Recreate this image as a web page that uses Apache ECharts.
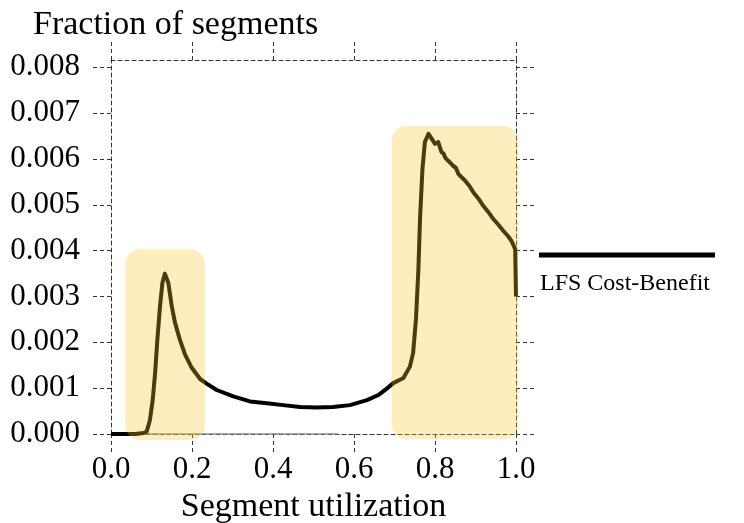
<!DOCTYPE html>
<html>
<head>
<meta charset="utf-8">
<script src="https://cdn.jsdelivr.net/npm/echarts@6/dist/echarts.min.js"></script>
<style>
  html, body { margin: 0; padding: 0; background: #fff; }
  #chart { width: 744px; height: 523px; }
</style>
</head>
<body>
<div id="chart"></div>
<script>
// segment utilization (x) and fraction of segments (y)
var utilization = [0, 0.02, 0.04, 0.06, 0.08, 0.088, 0.096, 0.103, 0.109, 0.114, 0.121, 0.127, 0.133,
  0.1415, 0.15, 0.158, 0.17, 0.183, 0.199, 0.22, 0.236, 0.261, 0.302, 0.343, 0.385, 0.425, 0.467,
  0.508, 0.548, 0.59, 0.632, 0.66, 0.681, 0.697, 0.722, 0.738, 0.746, 0.753, 0.759, 0.763, 0.769,
  0.775, 0.784, 0.792, 0.80, 0.808, 0.816, 0.821, 0.826, 0.833, 0.845, 0.852, 0.858, 0.874, 0.885,
  0.895, 0.907, 0.919, 0.932, 0.944, 0.956, 0.969, 0.98, 0.989, 0.998, 1.0];
var fraction = [0, 0, 0, 0, 0.00002, 0.00005, 0.0003, 0.00074, 0.00134, 0.002, 0.00279, 0.0033, 0.0035,
  0.0033, 0.00279, 0.00243, 0.00206, 0.00173, 0.00145, 0.0012, 0.0011, 0.00096, 0.00082, 0.00071,
  0.00067, 0.00063, 0.00059, 0.00058, 0.00059, 0.00063, 0.00074, 0.00085, 0.00099, 0.00111, 0.00122,
  0.00147, 0.00177, 0.0025, 0.00359, 0.00469, 0.00578, 0.00637, 0.00655, 0.00644, 0.00633, 0.00637,
  0.00615, 0.00612, 0.00602, 0.00596, 0.00585, 0.00580, 0.00567, 0.00553, 0.00541, 0.00527, 0.00514,
  0.00498, 0.00484, 0.00469, 0.00457, 0.00443, 0.00432, 0.00421, 0.00403, 0.003];

// thin grey zero line under the curve
var zeroLineX = [0, 0.56];

// highlighted regions: [xFrom, xTo, yFrom, yTo]
var highlights = [
  [0.035, 0.232, -0.00013, 0.00403],
  [0.693, 1.005, -0.00011, 0.00672]
];

var xTicks = [0, 0.2, 0.4, 0.6, 0.8, 1.0];
var yTicks = [0, 0.001, 0.002, 0.003, 0.004, 0.005, 0.006, 0.007, 0.008];

var seriesName = 'LFS Cost-Benefit';
var font = 'Liberation Serif';
var dash = { color: '#333', width: 1, type: [4, 3] };

var curve = utilization.map(function (u, i) { return [u, fraction[i]]; });
var zeroLine = zeroLineX.map(function (u) { return [u, 0]; });

var myChart = echarts.init(document.getElementById('chart'));

var option = {
  animation: false,
  backgroundColor: '#fff',
  title: {
    text: 'Fraction of segments',
    left: 28,
    top: 3,
    textStyle: { fontFamily: font, fontSize: 34, fontWeight: 'normal', color: '#000' }
  },
  grid: { left: 111, right: 228, top: 60, bottom: 89, outerBoundsMode: 'none', containLabel: false },
  xAxis: [
    {
      type: 'value', min: 0, max: 1, interval: 0.2,
      name: 'Segment utilization', nameLocation: 'middle', nameGap: 52,
      nameTextStyle: { fontFamily: font, fontSize: 34, color: '#000' },
      axisLine: { onZero: false, lineStyle: dash },
      axisTick: { length: 19, lineStyle: dash, customValues: xTicks },
      axisLabel: {
        margin: 20, fontFamily: font, fontSize: 31, color: '#000',
        customValues: xTicks,
        formatter: function (v) { return v.toFixed(1); }
      },
      splitLine: { show: false }
    },
    {
      type: 'value', min: 0, max: 1, interval: 0.2, position: 'top',
      axisLine: { onZero: false, lineStyle: dash },
      axisTick: { length: 18, lineStyle: dash, customValues: xTicks },
      axisLabel: { show: false },
      splitLine: { show: false }
    }
  ],
  yAxis: [
    {
      type: 'value', min: 0, max: 0.00816,
      axisLine: { show: true, onZero: false, lineStyle: dash },
      axisTick: { show: true, length: 20, lineStyle: dash, customValues: yTicks },
      axisLabel: {
        margin: 31, fontFamily: font, fontSize: 31, color: '#000',
        customValues: yTicks,
        formatter: function (v) { return v.toFixed(3); }
      },
      splitLine: { show: false }
    },
    {
      type: 'value', min: 0, max: 0.00816, position: 'right',
      axisLine: { show: true, onZero: false, lineStyle: dash },
      axisTick: { show: true, length: 20, lineStyle: dash, customValues: yTicks },
      axisLabel: { show: false },
      splitLine: { show: false }
    }
  ],
  series: [
    {
      name: 'zero',
      type: 'line',
      data: zeroLine,
      showSymbol: false,
      silent: true,
      lineStyle: { color: '#8a8a8a', width: 1.5 },
      z: 1
    },
    {
      name: seriesName,
      type: 'line',
      data: curve,
      showSymbol: false,
      lineStyle: { color: '#000', width: 4, join: 'round' },
      z: 2
    },
    {
      type: 'custom',
      data: highlights,
      encode: { x: [0, 1], y: [2, 3] },
      clip: false,
      silent: true,
      z: 3,
      renderItem: function (params, api) {
        var p0 = api.coord([api.value(0), api.value(3)]);
        var p1 = api.coord([api.value(1), api.value(2)]);
        return {
          type: 'rect',
          shape: { x: p0[0], y: p0[1], width: p1[0] - p0[0], height: p1[1] - p0[1], r: 15 },
          style: { fill: 'rgba(251, 195, 40, 0.3)' }
        };
      }
    }
  ],
  graphic: [
    {
      type: 'line',
      shape: { x1: 539, y1: 255, x2: 715, y2: 255 },
      style: { stroke: '#000', lineWidth: 5 }
    },
    {
      type: 'text',
      left: 540,
      top: 272,
      style: { text: seriesName, font: '24px "' + font + '"', fill: '#000' }
    }
  ]
};

myChart.setOption(option);
</script>
</body>
</html>
